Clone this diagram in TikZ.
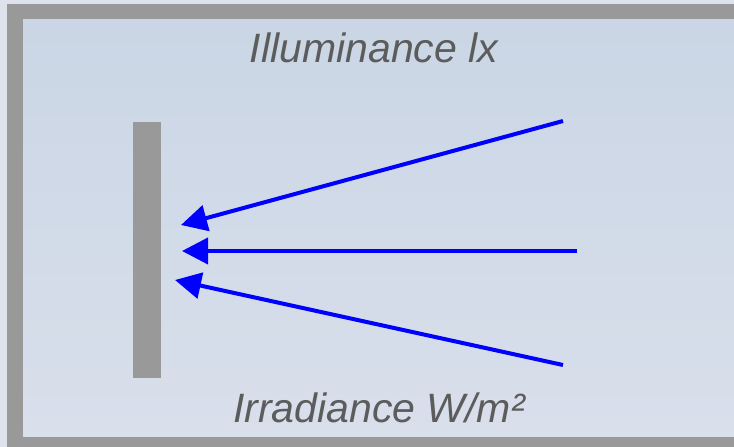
\documentclass[tikz,border=0pt]{standalone}
\usepackage{fontspec}
\setmainfont{Liberation Sans}
\usetikzlibrary{arrows.meta}
\definecolor{framegrey}{HTML}{999999}
\definecolor{bgtop}{HTML}{CAD6E5}
\definecolor{bgbot}{HTML}{D9DFEB}
\definecolor{textgrey}{HTML}{5C5C5C}
\tikzset{
  ray/.style={blue, line width=4pt, -{Triangle[length=26pt,width=26pt]}},
  caption/.style={font=\fontsize{41}{44}\selectfont\itshape, text=textgrey, anchor=base, inner sep=0pt}
}
\begin{document}
\begin{tikzpicture}[x=1pt,y=-1pt]
\useasboundingbox (0,0) rectangle (734,447);
\fill[bgbot!90!white] (0,0) rectangle (734,447);

% frame and panel
\fill[framegrey] (7,4) rectangle (734,447);
\shade[top color=bgtop, bottom color=bgbot] (23,19) rectangle (734,436);

% surface
\fill[framegrey] (133,122) rectangle (161,378);

% rays
\coordinate (s1) at (563,121);
\coordinate (s2) at (577,251);
\coordinate (s3) at (563,365);
\coordinate (t1) at (181,225);
\coordinate (t2) at (182,251);
\coordinate (t3) at (175,280);
\draw[ray] (s1) -- (t1);
\draw[ray] (s2) -- (t2);
\draw[ray] (s3) -- (t3);

% labels
\node[caption] (lux) at (374,62) {Illuminance lx};
\node[caption] (irr) at (379,422) {Irradiance W/m²};
\end{tikzpicture}
\end{document}
